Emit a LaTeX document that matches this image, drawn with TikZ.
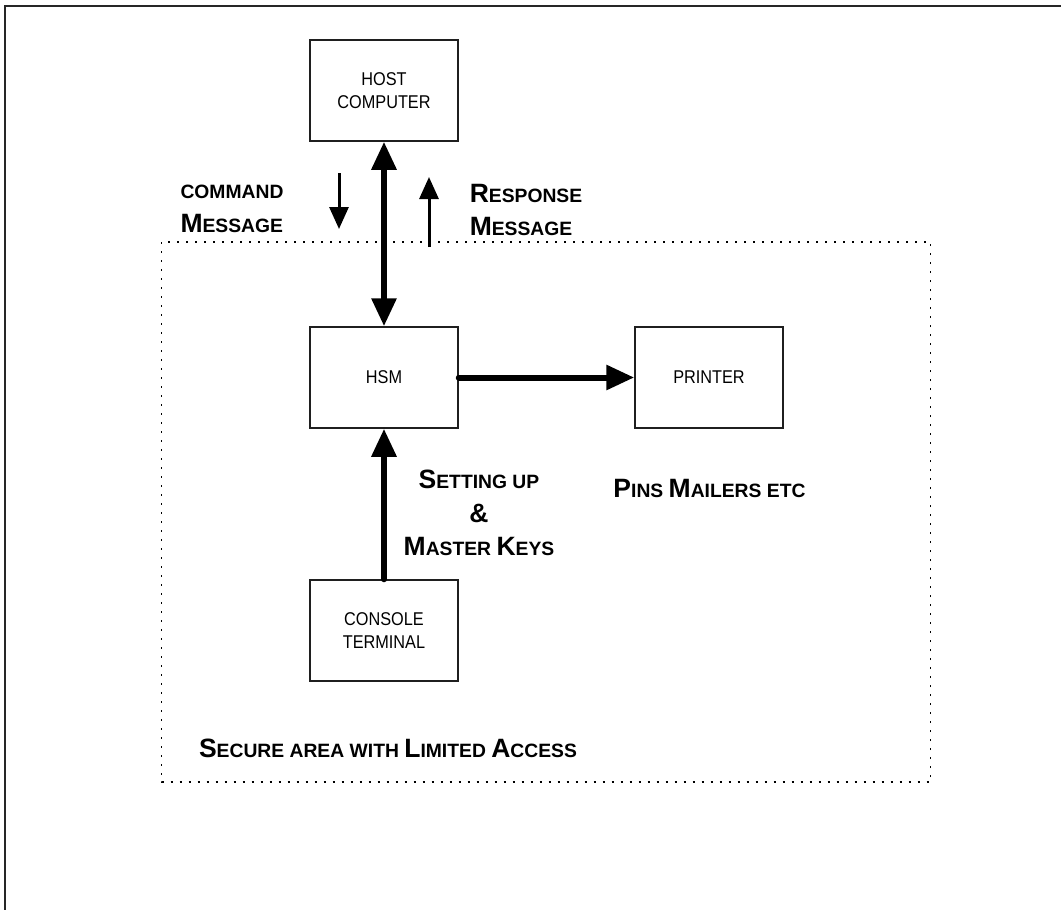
\documentclass[tikz,border=0pt]{standalone}
\usepackage{fontspec}
\setmainfont{Liberation Sans}
\newfontfamily\boxfont[FakeStretch=0.88]{Liberation Sans}
\usetikzlibrary{arrows.meta}
% larger capital for the hand-made small-caps labels
\newcommand\initcap[1]{{\fontsize{26.5}{33.5}\selectfont #1}}
\begin{document}
\begin{tikzpicture}[x=1pt,y=-1pt,
  unit/.style={draw=black!88,line width=1.5pt,minimum width=148pt,minimum height=101pt,
    inner sep=0pt,align=center,font=\boxfont\fontsize{18.5}{23}\selectfont},
  caption/.style={inner sep=0pt,font=\fontsize{19.3}{33.5}\selectfont\bfseries},
  link/.style={line width=6pt,line cap=round},
  bighead/.style={-{Triangle[length=28pt,width=24pt]}},
  smallhead/.style={line width=3pt,-{Triangle[length=22pt,width=19pt]}},
  zone/.style={line width=1.7pt,dash pattern=on 2pt off 7pt}]
\useasboundingbox (0,0) rectangle (1061,910);
% page frame (top and left edges)
\draw[line width=2pt,black!85] (5,910) -- (5,6) -- (1061,6);
% secure zone
\draw[zone] (161.5,242) rectangle (930.5,782);
% units
\node[unit] (host) at (384,90.5) {HOST\\COMPUTER};
\node[unit] (hsm) at (384,377.5) {HSM};
\node[unit] (printer) at (709,377.5) {PRINTER};
\node[unit] (console) at (384,630.5) {CONSOLE\\TERMINAL};
% links
\draw[link,{Triangle[length=28pt,width=24pt]}-{Triangle[length=28pt,width=24pt]}] (host.south) -- (hsm.north);
\draw[link,bighead] (hsm.east) -- (printer.west);
\draw[link,bighead] (console.north) -- (hsm.south);
% message direction indicators
\coordinate (cmdA) at (339,173);
\coordinate (cmdB) at (339,229);
\coordinate (rspA) at (429,247);
\coordinate (rspB) at (429,177);
\draw[smallhead] (cmdA) -- (cmdB);
\draw[smallhead] (rspA) -- (rspB);
% captions
\node[caption,align=left] (cmd) at (232,209) {COMMAND\\\initcap{M}ESSAGE};
\node[caption,align=left] (rsp) at (526,210) {\initcap{R}ESPONSE\\\initcap{M}ESSAGE};
\node[caption,align=center] (setup) at (479,513) {\initcap{S}ETTING UP\\\initcap{\&}\\\initcap{M}ASTER \initcap{K}EYS};
\node[caption] (pins) at (709.5,488) {\initcap{P}INS \initcap{M}AILERS ETC};
\node[caption] (secure) at (388,748) {\initcap{S}ECURE AREA WITH \initcap{L}IMITED \initcap{A}CCESS};
\end{tikzpicture}
\end{document}
